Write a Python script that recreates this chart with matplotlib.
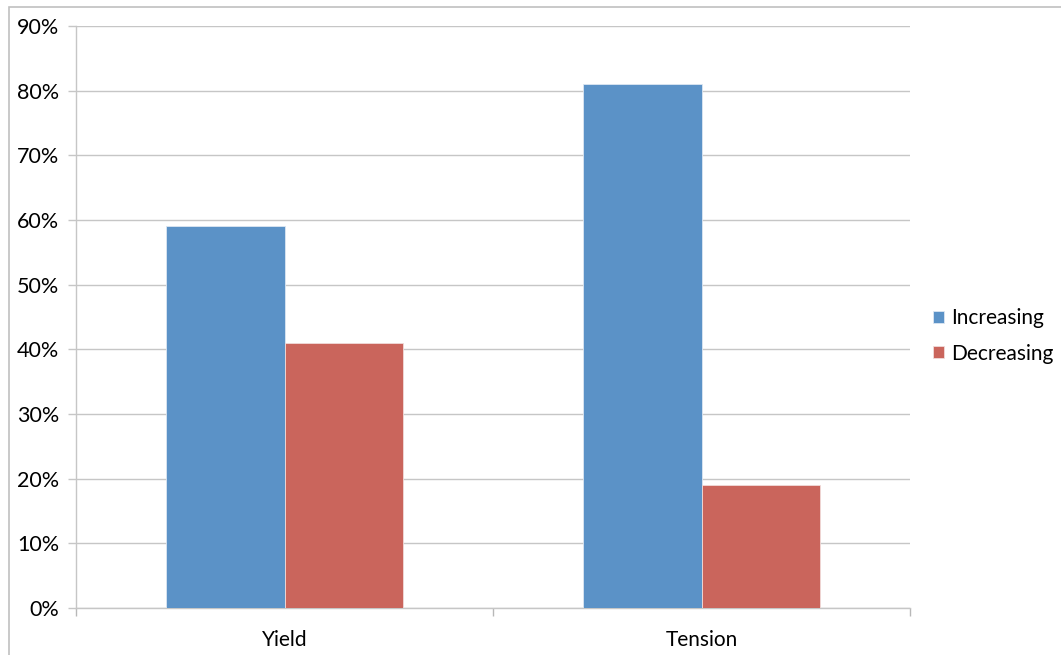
import numpy as np
import matplotlib.pyplot as plt
from matplotlib.patches import Rectangle
from matplotlib.ticker import FuncFormatter

categories = ['Yield', 'Tension']
increasing = [59, 81]
decreasing = [41, 19]
series_names = ['Increasing', 'Decreasing']
colors = ['#5b92c7', '#ca655c']

plt.rcParams['font.family'] = ['Lato', 'DejaVu Sans']

fig = plt.figure(figsize=(10.61, 6.55), dpi=100)
ax = fig.add_axes([76 / 1061, 1 - 608 / 655, (910 - 76) / 1061, (608 - 26) / 655])

x = np.arange(len(categories))
w = 0.285
ax.bar(x - w / 2, increasing, w, color=colors[0], edgecolor='#dce6f2', linewidth=0.6,
       label=series_names[0], zorder=3)
ax.bar(x + w / 2, decreasing, w, color=colors[1], edgecolor='#f0dcda', linewidth=0.6,
       label=series_names[1], zorder=3)

ax.set_xlim(-0.5, len(categories) - 0.5)
ax.set_ylim(0, 90)
ax.set_yticks(np.arange(0, 91, 10))
ax.yaxis.set_major_formatter(FuncFormatter(lambda v, p: '%d%%' % v))
ax.grid(axis='y', color='#c6c6c6', linewidth=1, zorder=0)
ax.set_xticks(x)
ax.set_xticklabels(categories)
ax.set_xticks(np.arange(-0.5, len(categories), 1.0), minor=True)
ax.tick_params(axis='x', which='major', length=0, pad=16, labelsize=15)
ax.tick_params(axis='x', which='minor', length=6, color='#b8b8b8', width=1)
ax.tick_params(axis='y', length=6, color='#c6c6c6', width=1, labelsize=15.5, pad=6)

for s in ['top', 'right']:
    ax.spines[s].set_visible(False)
for s in ['left', 'bottom']:
    ax.spines[s].set_color('#c6c6c6')
    ax.spines[s].set_linewidth(1)

ax.legend(loc='center left', bbox_to_anchor=(929 / 1061, 1 - 336 / 655), bbox_transform=fig.transFigure,
          frameon=False, fontsize=15, handlelength=0.5, handleheight=0.5, handletextpad=0.35,
          labelspacing=0.72, borderaxespad=0, borderpad=0.2)

fig.patches.append(Rectangle((9 / 1061, -0.05), 1.1, 1 - 7 / 655 + 0.05, transform=fig.transFigure,
                             fill=False, edgecolor='#c0c0c0', linewidth=1.2))

fig.savefig('out.png', dpi=100)
